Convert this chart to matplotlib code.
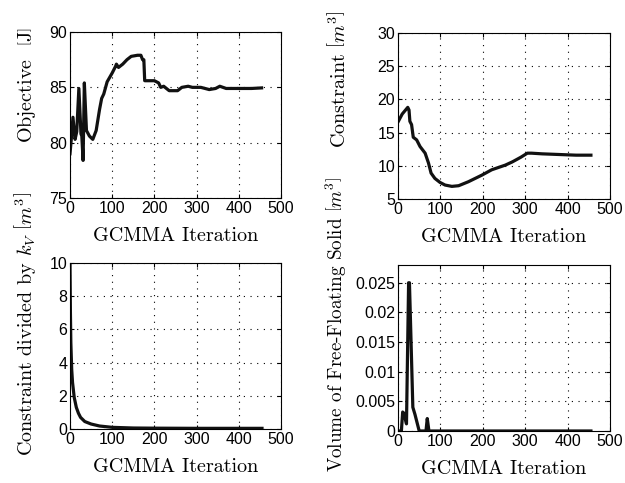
import numpy as np
import matplotlib
matplotlib.use("Agg")
import matplotlib.pyplot as plt

plt.rcParams["mathtext.fontset"] = "cm"
plt.rcParams["font.family"] = "Liberation Sans"

# data
obj_it = [0, 3, 7, 12, 16, 21, 26, 28, 31, 34, 39, 46, 54, 62, 70, 75, 80, 88, 100, 108, 110, 115,
          125, 135, 145, 160, 168, 172, 175, 177, 200, 210, 215, 222, 235, 255, 265, 280, 290,
          310, 330, 345, 355, 370, 400, 430, 454]
obj_val = [79.0, 80.3, 82.3, 80.3, 81.0, 84.9, 80.8, 80.6, 78.4, 85.4, 81.1, 80.6, 80.3, 81.1, 83.0,
           84.0, 84.4, 85.5, 86.3, 86.9, 87.1, 86.8, 87.1, 87.5, 87.8, 87.9, 87.9, 87.5, 87.5, 85.6,
           85.6, 85.4, 85.0, 85.1, 84.7, 84.7, 85.0, 85.1, 85.0, 85.0, 84.8, 84.9, 85.1, 84.9,
           84.9, 84.9, 84.95]

con_it = [0, 10, 23, 26, 28, 32, 36, 44, 52, 64, 72, 78, 87, 99, 111, 127, 143, 166, 198, 221,
          253, 270, 290, 305, 315, 340, 380, 420, 455]
con_val = [16.6, 17.8, 18.8, 18.4, 16.7, 16.2, 14.3, 13.9, 12.9, 11.9, 10.4, 8.9, 8.1, 7.5, 7.1,
           6.9, 7.0, 7.6, 8.6, 9.4, 10.1, 10.6, 11.3, 11.9, 11.9, 11.8, 11.7, 11.6, 11.6]

ckv_it = [0, 1, 2, 4, 6, 10, 15, 20, 25, 35, 50, 70, 100, 150, 200, 300, 455]
ckv_val = [10.0, 7.0, 5.2, 3.6, 2.8, 1.9, 1.3, 0.95, 0.7, 0.45, 0.3, 0.18, 0.1, 0.06, 0.05, 0.04, 0.04]

ffs_it = [0, 8, 11, 14, 20, 25, 27, 35, 40, 50, 66, 69, 73, 455]
ffs_val = [0, 0, 0.0032, 0.003, 0.0012, 0.025, 0.025, 0.004, 0.0028, 0, 0, 0.0021, 0, 0]

fig = plt.figure(figsize=(6.25, 4.83), dpi=100)
ax1 = fig.add_axes([0.112, 0.590, 0.3376, 0.3437])
ax2 = fig.add_axes([0.6368, 0.588, 0.3392, 0.3437])
ax3 = fig.add_axes([0.112, 0.1118, 0.3376, 0.3437])
ax4 = fig.add_axes([0.6368, 0.1077, 0.3392, 0.3437])

m3 = r"$\left[m^3\right]$"

panels = [
    (ax1, obj_it, obj_val, (75, 90), [75, 80, 85, 90], r"Objective  $\left[\mathrm{J}\right]$", (-0.15, 0.68), 14.5),
    (ax2, con_it, con_val, (5, 30), [5, 10, 15, 20, 25, 30], "Constraint " + m3, (-0.232, 0.72), 14.5),
    (ax3, ckv_it, ckv_val, (0, 10), [0, 2, 4, 6, 8, 10], r"Constraint divided by $k_V$ " + m3, (-0.15, 0.63), 14.5),
    (ax4, ffs_it, ffs_val, (0, 0.028), [0, 0.005, 0.01, 0.015, 0.02, 0.025],
     "Volume of Free-Floating Solid " + m3, (-0.232, 0.64), 13.8),
]

for ax, xs, ys, ylim, yt, ylab, lc, fs in panels:
    ax.plot(xs, ys, color="#111111", lw=2.3)
    ax.set_xlim(0, 500)
    ax.set_ylim(*ylim)
    ax.set_xticks([0, 100, 200, 300, 400, 500])
    ax.set_yticks(yt)
    if ax is ax4:
        ax.set_yticklabels(["0", "0.005", "0.01", "0.015", "0.02", "0.025"])
    ax.grid(True, color="black", linestyle=(0, (1, 5)), linewidth=0.8)
    ax.tick_params(direction="in", length=3, labelsize=11.5, top=True, right=True, pad=2)
    for s in ax.spines.values():
        s.set_linewidth(0.8)
    ax.set_xlabel("GCMMA Iteration", labelpad=8, fontname="cmr10", fontsize=14.5)
    ax.set_ylabel(ylab, fontname="cmr10", fontsize=fs)
    ax.yaxis.set_label_coords(*lc)

plt.savefig("out.png", dpi=100)
